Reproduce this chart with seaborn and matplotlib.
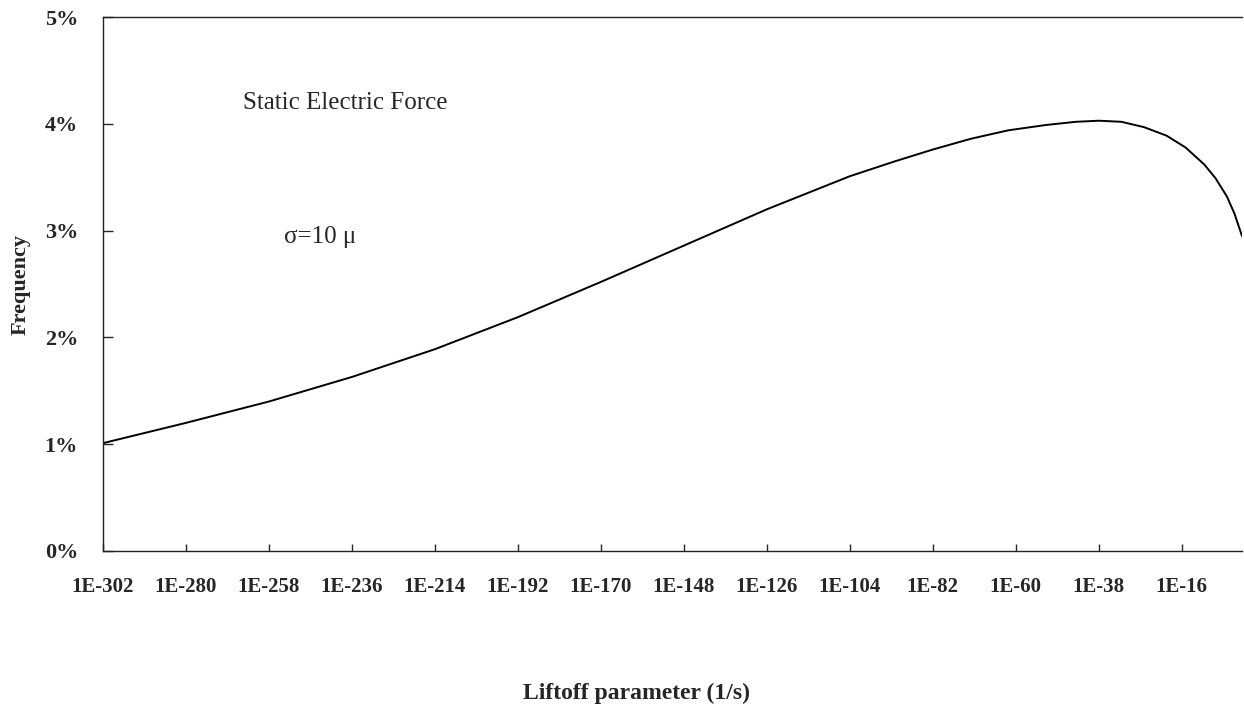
import pandas as pd
import matplotlib.pyplot as plt
import seaborn as sns

# log10 of liftoff parameter (1/s) and frequency (%)
log_liftoff = [-302, -280, -258, -236, -214, -192, -170, -148, -126, -104,
               -92, -82, -72, -62, -52, -44, -38, -32, -26, -20,
               -15, -10, -7, -4, -2, 0]
frequency = [1.01, 1.20, 1.40, 1.63, 1.89, 2.19, 2.52, 2.86, 3.20, 3.51,
             3.65, 3.76, 3.86, 3.94, 3.99, 4.02, 4.03, 4.02, 3.97, 3.89,
             3.78, 3.62, 3.49, 3.32, 3.16, 2.95]

tick_pos = list(range(-302, 0, 22))
tick_labels = ['1E%d' % t for t in tick_pos]
y_ticks = [0, 1, 2, 3, 4, 5]
y_labels = ['%d%%' % v for v in y_ticks]

df = pd.DataFrame({'log_liftoff': log_liftoff, 'frequency': frequency})

sns.set_style('ticks')
plt.rcParams['font.family'] = ['Liberation Serif', 'DejaVu Serif']
plt.rcParams['xtick.direction'] = 'in'
plt.rcParams['ytick.direction'] = 'in'

fig = plt.figure(figsize=(12.44, 7.15), dpi=100)
ax = fig.add_axes([0.0828, 0.2294, 0.9156, 0.7466])

sns.lineplot(data=df, x='log_liftoff', y='frequency', color='black', linewidth=1.4, ax=ax)

ax.set_xlim(-302, 0)
ax.set_ylim(0, 5)
ax.set_xticks(tick_pos)
ax.set_xticklabels(tick_labels, fontsize=15, fontweight='bold')
ax.set_yticks(y_ticks)
ax.set_yticklabels(y_labels, fontsize=16, fontweight='bold')
ax.tick_params(axis='x', length=5, width=1, pad=19)
ax.tick_params(axis='y', length=7, width=1, pad=18)

ax.spines['right'].set_visible(False)
for s in ['left', 'bottom', 'top']:
    ax.spines[s].set_linewidth(1.0)
    ax.spines[s].set_color('#222222')

ax.set_xlabel('Liftoff parameter (1/s)', fontsize=17, fontweight='bold')
ax.set_ylabel('Frequency', fontsize=16, fontweight='bold')
ax.xaxis.set_label_coords(0.468, -0.266)
ax.yaxis.set_label_coords(-0.0725, 0.5)
ax.xaxis.label.set_va('center')
ax.yaxis.label.set_va('center')

ax.text(-265, 4.2, 'Static Electric Force', fontsize=18, ha='left', va='center')
ax.text(-254, 2.94, '\u03c3=10 \u03bc', fontsize=18, ha='left', va='center')

fig.savefig('out.png', dpi=100)
